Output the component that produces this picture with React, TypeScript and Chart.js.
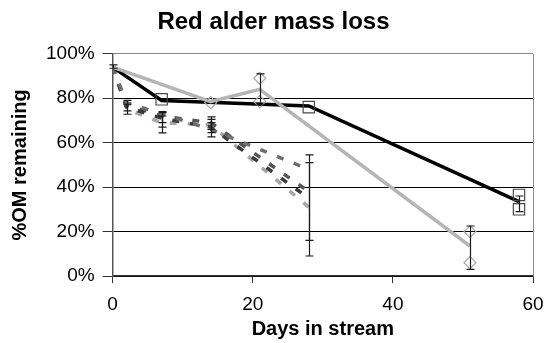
import { useEffect, useRef } from "react";
import { Chart, registerables } from "chart.js";

Chart.register(...registerables);

// Axis ticks
const xTicks = [0, 20, 40, 60];
const yTicks = [0, 0.2, 0.4, 0.6, 0.8, 1.0];

// Solid black series (mean line)
const blackDays = [0, 7, 28, 58];
const blackMean = [0.94, 0.79, 0.765, 0.335];

// Solid gray series (mean line)
const grayDays = [0, 14, 21, 51];
const grayMean = [0.94, 0.785, 0.84, 0.135];

// Dashed series (sampled days)
const dashDays = [0, 2, 7, 14, 28];
const dashDark = [0.94, 0.76, 0.71, 0.67, 0.35];
const dashMid = [0.94, 0.78, 0.73, 0.66, 0.48];
const dashLight = [0.94, 0.75, 0.69, 0.68, 0.31];
const dashGrey = [0.94, 0.77, 0.72, 0.69, 0.38];

// Replicate markers
const squareDays = [7, 28, 58, 58];
const squareVals = [0.795, 0.76, 0.365, 0.3];
const diamondDays = [14, 21, 21, 51, 51];
const diamondVals = [0.78, 0.89, 0.785, 0.2, 0.06];

// Error bars
const errDays = [0, 2, 2, 7, 7, 7, 14, 14, 14, 21, 28, 28, 51, 58];
const errLow = [0.935, 0.728, 0.743, 0.644, 0.67, 0.69, 0.626, 0.645, 0.66, 0.77, 0.09, 0.16, 0.03, 0.29];
const errHigh = [0.95, 0.79, 0.773, 0.74, 0.735, 0.72, 0.716, 0.705, 0.69, 0.91, 0.51, 0.545, 0.225, 0.36];

const FONT = "'Liberation Sans', Arial, sans-serif";

const pts = (xs: number[], ys: number[]) => xs.map((x, i) => ({ x, y: ys[i] }));

const frameAndErrors = {
  id: "frameAndErrors",
  beforeDatasetsDraw(chart: any) {
    const { ctx, chartArea } = chart;
    ctx.save();
    ctx.strokeStyle = "#8a8a8a";
    ctx.lineWidth = 1;
    ctx.beginPath();
    ctx.moveTo(Math.round(chartArea.right) + 0.5, chartArea.top);
    ctx.lineTo(Math.round(chartArea.right) + 0.5, chartArea.bottom);
    ctx.stroke();
    ctx.restore();
  },
  afterDatasetsDraw(chart: any) {
    const { ctx, scales } = chart;
    const xs = scales.x;
    const ys = scales.y;
    ctx.save();
    ctx.strokeStyle = "#1a1a1a";
    ctx.lineWidth = 1.2;
    errDays.forEach((d, i) => {
      const px = Math.round(xs.getPixelForValue(d)) + 0.5;
      const lo = ys.getPixelForValue(errLow[i]);
      const hi = ys.getPixelForValue(errHigh[i]);
      ctx.beginPath();
      ctx.moveTo(px, lo);
      ctx.lineTo(px, hi);
      ctx.moveTo(px - 4, lo);
      ctx.lineTo(px + 4, lo);
      ctx.moveTo(px - 4, hi);
      ctx.lineTo(px + 4, hi);
      ctx.stroke();
    });
    ctx.restore();
  },
};

export default function App() {
  const ref = useRef<HTMLCanvasElement | null>(null);

  useEffect(() => {
    if (!ref.current) return;
    Chart.defaults.font.family = FONT;
    Chart.defaults.color = "#000";
    const dashStyle = (data: number[], color: string) => ({
      type: "line" as const,
      data: pts(dashDays, data),
      borderColor: color,
      borderWidth: 3.5,
      borderDash: [7, 11],
      pointRadius: 0,
      fill: false,
      tension: 0,
    });
    const chart = new Chart(ref.current, {
      type: "line",
      data: {
        datasets: [
          {
            type: "scatter",
            data: pts(squareDays, squareVals),
            pointStyle: "rect",
            pointRadius: 8,
            pointBorderColor: "#4a4a4a",
            pointBackgroundColor: "rgba(0,0,0,0)",
            pointBorderWidth: 1.2,
            showLine: false,
          } as any,
          {
            type: "scatter",
            data: pts(diamondDays, diamondVals),
            pointStyle: "rectRot",
            pointRadius: 6,
            pointBorderColor: "#a8a8a8",
            pointBackgroundColor: "rgba(255,255,255,0)",
            pointBorderWidth: 1.2,
            showLine: false,
          } as any,
          {
            type: "line",
            data: pts(grayDays, grayMean),
            borderColor: "#b5b5b5",
            borderWidth: 3.5,
            pointRadius: 0,
            fill: false,
            tension: 0,
          },
          {
            type: "line",
            data: pts(blackDays, blackMean),
            borderColor: "#000",
            borderWidth: 3.5,
            pointRadius: 0,
            fill: false,
            tension: 0,
          },
          dashStyle(dashMid, "#6e6e6e"),
          dashStyle(dashDark, "#3a3a3a"),
          dashStyle(dashGrey, "#555555"),
          dashStyle(dashLight, "#a5a5a5"),
        ] as any,
      },
      options: {
        responsive: false,
        animation: false,
        layout: { padding: { left: 0, right: 0, top: 0, bottom: 0 } },
        plugins: {
          legend: { display: false },
          tooltip: { enabled: false },
          title: {
            display: true,
            text: "Red alder mass loss",
            color: "#000",
            font: { family: FONT, size: 24, weight: "bold" },
            padding: { top: 8, bottom: 17 },
          },
        },
        scales: {
          x: {
            type: "linear",
            min: 0,
            max: 60,
            afterBuildTicks: (s: any) => {
              s.ticks = xTicks.map((v) => ({ value: v }));
            },
            ticks: { font: { family: FONT, size: 19, lineHeight: 36 / 19 }, color: "#000", padding: 3.4 },
            grid: { drawOnChartArea: false, drawTicks: true, tickLength: 7, tickColor: "#333" },
            border: { display: true, color: "#333", width: 1.5 },
            title: {
              display: true,
              text: "Days in stream",
              color: "#000",
              font: { family: FONT, size: 20, weight: "bold" },
              padding: { top: -8.8, bottom: 2 },
            },
          },
          y: {
            type: "linear",
            min: 0,
            max: 1,
            afterBuildTicks: (s: any) => {
              s.ticks = yTicks.map((v) => ({ value: v }));
            },
            ticks: {
              font: { family: FONT, size: 19 },
              color: "#000",
              padding: 8,
              callback: (v: any) => Math.round(Number(v) * 100) + "%",
            },
            grid: {
              color: (c: any) => (c.tick && c.tick.value >= 1 ? "#8a8a8a" : "#000"),
              lineWidth: 1,
              tickLength: 10,
              tickColor: "#333",
            },
            border: { display: true, color: "#555", width: 1.5 },
            title: {
              display: true,
              text: "%OM remaining",
              color: "#000",
              font: { family: FONT, size: 20, weight: "bold" },
              padding: { top: 8, bottom: 6 },
            },
          },
        },
      },
      plugins: [frameAndErrors],
    });
    return () => chart.destroy();
  }, []);

  return (
    <div style={{ position: "fixed", left: 0, top: 0, width: 547, height: 343, background: "#fff" }}>
      <canvas ref={ref} width={547} height={343} />
    </div>
  );
}
